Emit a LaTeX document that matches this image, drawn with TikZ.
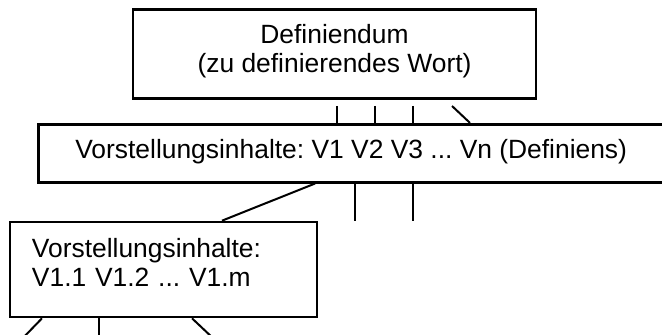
\documentclass[tikz,border=0pt]{standalone}
\usepackage{fontspec}
\setmainfont{Liberation Sans}
\frenchspacing
\begin{document}
\begin{tikzpicture}[x=0.5pt,y=-0.5pt,
  box/.style={draw, line width=1.3pt, inner ysep=0pt, font=\fontsize{13.2}{14.7}\selectfont},
  conn/.style={line width=1pt}]
\useasboundingbox (0,0) rectangle (662,335);
% boxes
\node[box, minimum width=201.5pt, minimum height=44.5pt, align=center] (top) at (334.5,54)
  {\rule{0pt}{10pt}Definiendum\\(zu definierendes Wort)\rule[-6pt]{0pt}{6pt}};
\node[box, anchor=west, inner xsep=18.5pt, minimum height=29pt, text height=9pt, text depth=4pt] (mid) at (37,153.25)
  {Vorstellungsinhalte: V1 V2 V3 ... Vn (Definiens)};
\node[box, minimum width=153.5pt, minimum height=47.5pt, inner xsep=11pt, text width=131.5pt, align=left] (bot) at (163.5,269.5)
  {\rule{0pt}{10pt}Vorstellungsinhalte:\\V1.1 V1.2 ... V1.m\rule[-7.5pt]{0pt}{7.5pt}};
% connectors top -> mid
\coordinate (t1) at (337,106);
\coordinate (t2) at (375,106);
\coordinate (t3) at (413,106);
\coordinate (t4) at (452,106);
\coordinate (t4e) at (470,0);
\draw[conn] (t1) -- (t1 |- mid.north);
\draw[conn] (t2) -- (t2 |- mid.north);
\draw[conn] (t3) -- (t3 |- mid.north);
\draw[conn] (t4) -- (t4e |- mid.north);
% connectors below mid
\coordinate (m1) at (355,221);
\coordinate (m2) at (413,221);
\coordinate (m3) at (315,0);
\coordinate (m3e) at (222,0);
\draw[conn] (m1 |- mid.south) -- (m1);
\draw[conn] (m2 |- mid.south) -- (m2);
\draw[conn] (m3 |- mid.south) -- (m3e |- bot.north);
% connectors below bot
\coordinate (b1s) at (42,0);
\coordinate (b1) at (21,340);
\coordinate (b2) at (99,340);
\coordinate (b3s) at (192,0);
\coordinate (b3) at (215,340);
\draw[conn] (b1s |- bot.south) -- (b1);
\draw[conn] (b2 |- bot.south) -- (b2);
\draw[conn] (b3s |- bot.south) -- (b3);
\end{tikzpicture}
\end{document}
